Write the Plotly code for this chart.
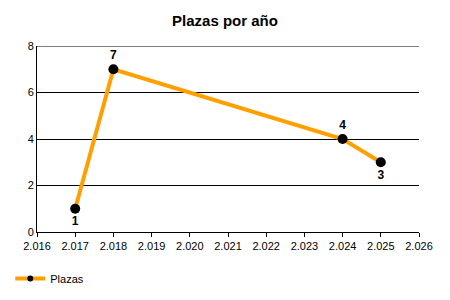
import plotly.graph_objects as go

years = [2017, 2018, 2024, 2025]
plazas = [1, 7, 4, 3]
label_pos = ["bottom center", "top center", "top center", "bottom center"]
tick_years = list(range(2016, 2027))
tick_labels = ["2.%03d" % (y - 2000) for y in tick_years]
y_ticks = [0, 2, 4, 6, 8]

fig = go.Figure()
fig.add_trace(go.Scatter(
    x=years, y=plazas, name="Plazas", mode="lines+markers+text",
    line=dict(color="#FFA000", width=4),
    marker=dict(color="black", size=10),
    text=[str(v) for v in plazas], textposition=label_pos,
    textfont=dict(family="Liberation Sans, Arial", size=12, color="black", weight="bold"),
    cliponaxis=False, showlegend=False,
))
fig.add_trace(go.Scatter(
    x=[None], y=[None], name="Plazas", mode="lines+markers",
    line=dict(color="#FFA000", width=4),
    marker=dict(color="black", size=6),
    showlegend=True,
))

# top gridline (plotly omits the one on the plot edge)
fig.add_shape(type="line", xref="paper", x0=0, x1=1, yref="y", y0=max(y_ticks), y1=max(y_ticks),
              line=dict(color="black", width=1), layer="below")

fig.update_layout(
    width=450, height=300,
    margin=dict(l=37, r=31, t=46, b=68, autoexpand=False),
    paper_bgcolor="white", plot_bgcolor="white",
    font=dict(family="Liberation Sans, Arial", size=11, color="black"),
    title=dict(text="<b>Plazas por año</b>", x=0.5, xanchor="center", y=0.93, yanchor="middle",
               font=dict(size=15, color="black")),
    showlegend=True,
    legend=dict(orientation="h", x=-0.07, xanchor="left", y=-0.25, yanchor="middle",
                font=dict(size=11), itemwidth=30),
    xaxis=dict(range=[2016, 2026], tickvals=tick_years, ticktext=tick_labels,
               showgrid=False, zeroline=False, showline=True, linecolor="black", linewidth=1,
               ticks="outside", ticklen=4, tickcolor="black"),
    yaxis=dict(range=[0, 8], tickvals=y_ticks, showgrid=True, gridcolor="black", gridwidth=1,
               zeroline=False, showline=True, linecolor="black", linewidth=1,
               ticks="", ticklen=0),
)

fig.write_html("out.html")
